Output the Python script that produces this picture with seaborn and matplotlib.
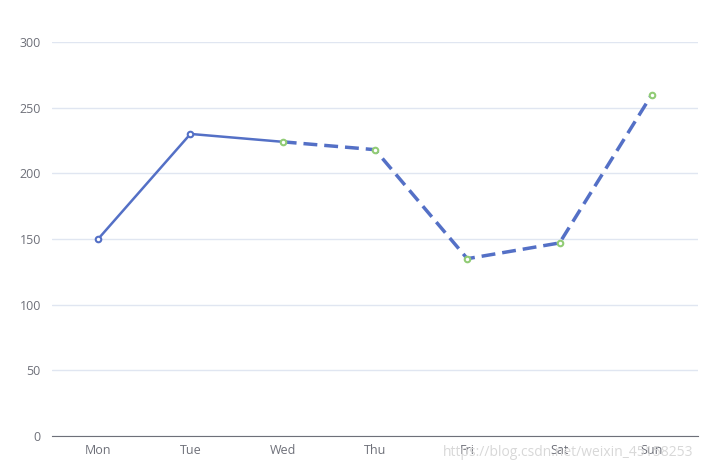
import matplotlib
matplotlib.use("Agg")
import matplotlib.pyplot as plt
import seaborn as sns
import pandas as pd
import numpy as np

days = ["Mon", "Tue", "Wed", "Thu", "Fri", "Sat", "Sun"]
values = [150, 230, 224, 218, 135, 147, 260]
yticks = [0, 50, 100, 150, 200, 250, 300]

sns.set_style("white")
plt.rcParams['font.family'] = ['Open Sans', 'DejaVu Sans']
fig = plt.figure(figsize=(7.26, 4.70), dpi=100)
ax = fig.add_axes([52/726, 34/470, 646/726, 394/470])

df = pd.DataFrame({"day": np.arange(7), "v": values})
blue = "#5470c6"
green = "#91cc75"
sns.lineplot(data=df.iloc[:3], x="day", y="v", ax=ax, color=blue, lw=1.8)
sns.lineplot(data=df.iloc[2:], x="day", y="v", ax=ax, color=blue, lw=2.5, linestyle=(0, (4, 2)))
ax.scatter(df.day[:2], df.v[:2], s=16, facecolor="white", edgecolor=blue, lw=1.5, zorder=5)
ax.scatter(df.day[2:], df.v[2:], s=16, facecolor="white", edgecolor=green, lw=1.5, zorder=5)

ax.set_xlim(-0.5, 6.5)
ax.set_ylim(0, 300)
ax.set_yticks(yticks)
ax.set_yticklabels([str(t) for t in yticks], color="#6e7079", fontsize=9)
ax.set_xticks(range(7))
ax.set_xticklabels(days, color="#6e7079", fontsize=9)
ax.set_xticks(np.arange(-0.5, 7, 1), minor=True)
ax.tick_params(axis="x", which="major", length=0, pad=6)
ax.tick_params(axis="x", which="minor", length=5, color="#6e7079")
ax.tick_params(axis="y", length=0, pad=8)
ax.set_xlabel("")
ax.set_ylabel("")
ax.grid(axis="y", color="#e0e6f1", lw=1)
for s in ["top", "right", "left"]:
    ax.spines[s].set_visible(False)
ax.spines["bottom"].set_color("#6e7079")
fig.text(443/726, 18/470, "https://blog.csdn.net/weixin_45158253", color="#d8d8d8",
         fontsize=10, va="center", ha="left")
fig.savefig("out.png", dpi=100)
